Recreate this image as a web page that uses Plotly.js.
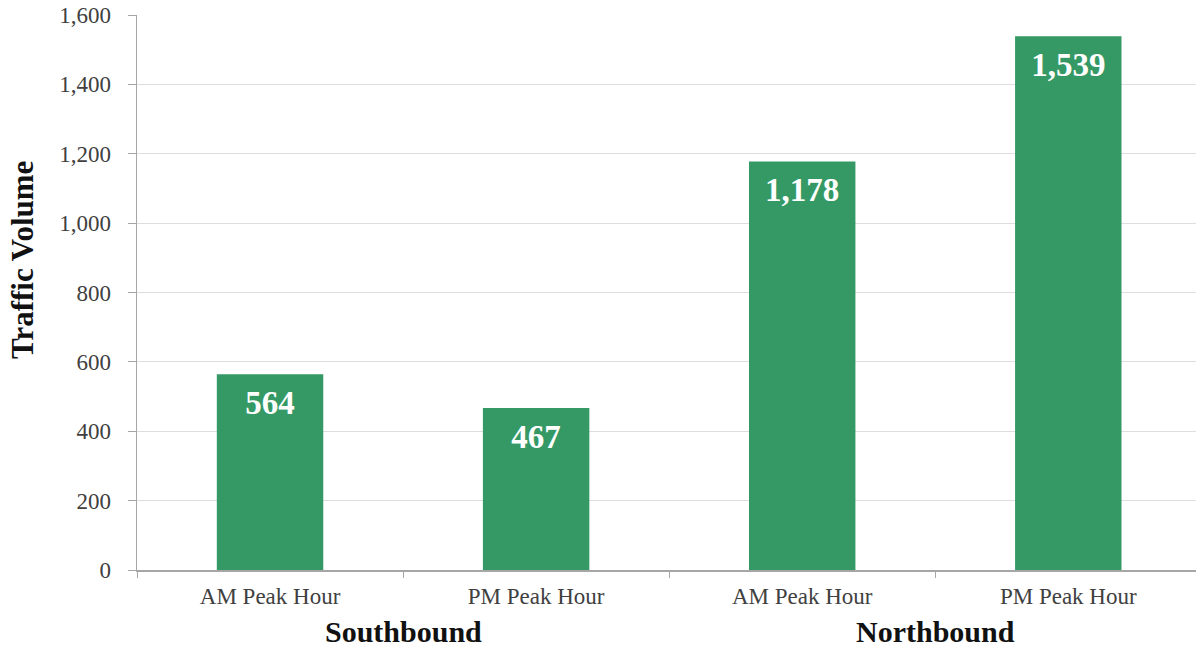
<!DOCTYPE html>
<html>
<head>
<meta charset="utf-8">
<script src="https://cdn.plot.ly/plotly-3.0.1.min.js"></script>
<style>html,body{margin:0;padding:0;background:#fff;}#chart{width:1196px;height:647px;}</style>
</head>
<body>
<div id="chart"></div>
<script>
var directions = ["Southbound", "Southbound", "Northbound", "Northbound"];
var periods = ["AM Peak Hour", "PM Peak Hour", "AM Peak Hour", "PM Peak Hour"];
var volumes = [564, 467, 1178, 1539];
var yTitle = "Traffic Volume";

var serif = "Liberation Serif, Times New Roman, serif";
// unique category keys; tick text shows only the period
var keys = directions.map(function (d, i) { return d + " " + periods[i]; });

// group labels centred under their categories
var groupNames = [];
directions.forEach(function (d) { if (groupNames.indexOf(d) < 0) groupNames.push(d); });
var groupAnns = groupNames.map(function (g) {
  var idx = [];
  directions.forEach(function (d, i) { if (d === g) idx.push(i); });
  var c = idx.reduce(function (a, b) { return a + b; }, 0) / idx.length;
  return {
    xref: "x", yref: "paper", x: c, y: 0,
    yanchor: "middle", xanchor: "center", yshift: -61,
    text: "<b>" + g + "</b>", showarrow: false,
    font: { family: serif, size: 30, color: "#111111" }
  };
});

var titleAnn = {
  xref: "paper", yref: "paper", x: (22 - 137) / 1059, y: (570 - 260) / 555,
  xanchor: "center", yanchor: "middle", textangle: -90,
  text: "<b>" + yTitle + "</b>", showarrow: false,
  font: { family: serif, size: 31, color: "#111111" }
};

var bars = {
  type: "bar",
  x: keys,
  y: volumes,
  marker: { color: "#359966" },
  hoverinfo: "y"
};

var labels = {
  type: "scatter",
  mode: "markers+text",
  x: keys,
  y: volumes,
  marker: { size: 22, color: "rgba(0,0,0,0)" },
  text: volumes.map(function (v) { return v.toLocaleString("en-US"); }),
  textposition: "bottom center",
  textfont: { family: serif, size: 33, color: "#ffffff", weight: "bold" },
  hoverinfo: "skip",
  cliponaxis: false
};

var layout = {
  width: 1196,
  height: 647,
  margin: { l: 137, r: 0, t: 15, b: 77 },
  paper_bgcolor: "#ffffff",
  plot_bgcolor: "#ffffff",
  bargap: 0.6,
  showlegend: false,
  font: { family: serif, color: "#404040" },
  annotations: groupAnns.concat([titleAnn]),
  xaxis: {
    type: "category",
    range: [-0.5, 3.48],
    tickvals: keys,
    ticktext: periods,
    tickson: "boundaries",
    ticks: "outside",
    ticklen: 6,
    tickcolor: "#a6a6a6",
    ticklabelstandoff: 5,
    showline: true,
    linecolor: "#a6a6a6",
    linewidth: 1.5,
    tickfont: { family: serif, size: 23, color: "#404040" },
    showgrid: false
  },
  yaxis: {
    range: [0, 1600],
    tickvals: [0, 200, 400, 600, 800, 1000, 1200, 1400, 1600],
    tickformat: ",d",
    ticks: "outside",
    ticklen: 8,
    tickcolor: "#a6a6a6",
    ticklabelstandoff: 12,
    showline: true,
    linecolor: "#a6a6a6",
    linewidth: 1.5,
    gridcolor: "#dedede",
    gridwidth: 1,
    zeroline: false,
    tickfont: { family: serif, size: 23, color: "#404040" }
  }
};

Plotly.newPlot("chart", [bars, labels], layout, { displayModeBar: false, staticPlot: true });
</script>
</body>
</html>
